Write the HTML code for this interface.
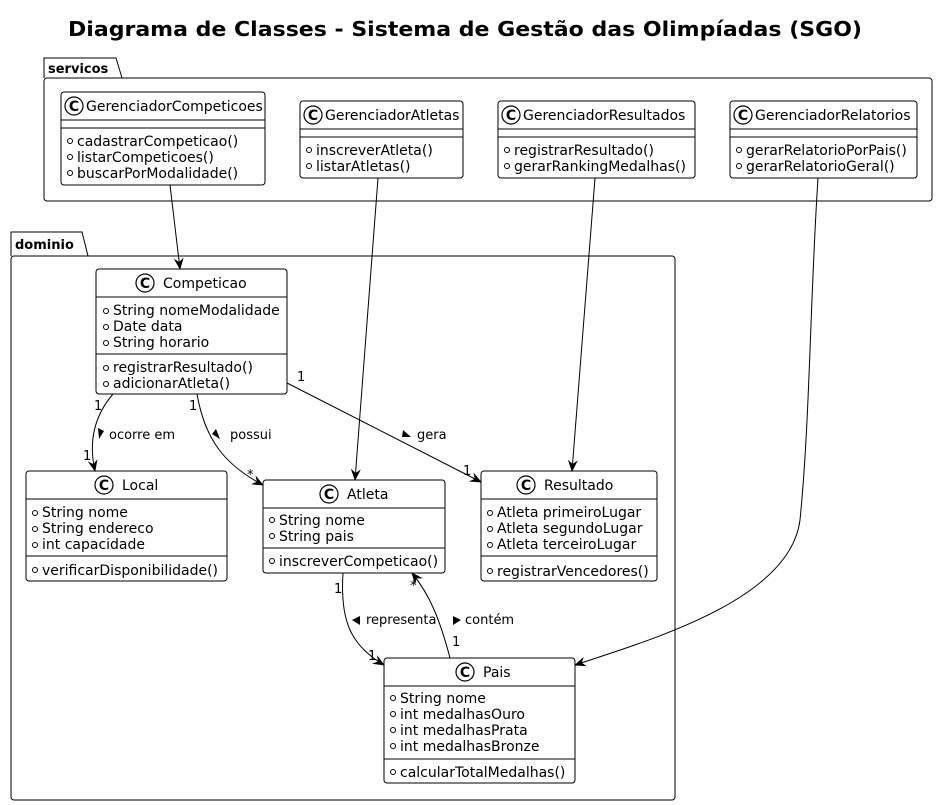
<!DOCTYPE html>
<html><head><meta charset="utf-8"><style>
body{margin:0;background:#fff;}
svg{display:block;}
text{font-family:"DejaVu Sans","Liberation Sans",sans-serif;font-size:14px;fill:#000;}
.t{font-weight:bold;font-size:20px;}
.pk{font-weight:bold;font-size:13px;}
.lbl{font-size:13px;}
</style></head><body>
<svg width="938" height="805" viewBox="0 0 938 805" xmlns="http://www.w3.org/2000/svg">
<defs>
<marker id="a" viewBox="0 0 12 10" refX="11" refY="5" markerWidth="12" markerHeight="10" markerUnits="userSpaceOnUse" orient="auto">
<path d="M0,0 L12,5 L0,10 L4,5 Z" fill="#000"/>
</marker>
<g id="ci"><circle r="9" fill="#fff" stroke="#000" stroke-width="1.2"/><text x="0" y="5" text-anchor="middle" style="font-size:14px;font-weight:bold">C</text></g>
</defs>
<rect width="938" height="805" fill="#fff"/>
<text class="t" x="68" y="36" textLength="794" lengthAdjust="spacingAndGlyphs">Diagrama de Classes - Sistema de Gestão das Olimpíadas (SGO)</text>

<path d="M44,78 L44,58 L116,58 L122,78" fill="none" stroke="#000"/>
<rect x="44" y="78" width="888" height="123" rx="3" fill="none" stroke="#000"/>
<text class="pk" x="48" y="73">servicos</text>

<path d="M11,256 L11,232 L82,232 L88,256" fill="none" stroke="#000"/>
<rect x="11" y="256" width="664" height="544" rx="3" fill="none" stroke="#000"/>
<text class="pk" x="15" y="249">dominio</text>

<g fill="#fff" stroke="#000">
<rect x="61" y="92" width="204" height="93" rx="3"/><line x1="61" y1="120" x2="265" y2="120"/><line x1="61" y1="128" x2="265" y2="128"/>
<rect x="300" y="101" width="163" height="77" rx="3"/><line x1="300" y1="129" x2="463" y2="129"/><line x1="300" y1="137" x2="463" y2="137"/>
<rect x="498" y="101" width="197" height="77" rx="3"/><line x1="498" y1="129" x2="695" y2="129"/><line x1="498" y1="137" x2="695" y2="137"/>
<rect x="730" y="101" width="187" height="77" rx="3"/><line x1="730" y1="129" x2="917" y2="129"/><line x1="730" y1="137" x2="917" y2="137"/>
<rect x="96" y="269" width="191" height="125" rx="3"/><line x1="96" y1="297" x2="287" y2="297"/><line x1="96" y1="354" x2="287" y2="354"/>
<rect x="26" y="471" width="201" height="110" rx="3"/><line x1="26" y1="499" x2="227" y2="499"/><line x1="26" y1="556" x2="227" y2="556"/>
<rect x="263" y="480" width="182" height="93" rx="3"/><line x1="263" y1="508" x2="445" y2="508"/><line x1="263" y1="548" x2="445" y2="548"/>
<rect x="481" y="471" width="176" height="110" rx="3"/><line x1="481" y1="499" x2="657" y2="499"/><line x1="481" y1="556" x2="657" y2="556"/>
<rect x="384" y="658" width="191" height="125" rx="3"/><line x1="384" y1="686" x2="575" y2="686"/><line x1="384" y1="759" x2="575" y2="759"/>
</g>

<use href="#ci" x="74" y="106"/><text x="86" y="111">GerenciadorCompeticoes</text>
<use href="#ci" x="313" y="115"/><text x="325" y="120">GerenciadorAtletas</text>
<use href="#ci" x="511" y="115"/><text x="523" y="120">GerenciadorResultados</text>
<use href="#ci" x="743" y="115"/><text x="755" y="120">GerenciadorRelatorios</text>
<use href="#ci" x="145" y="283"/><text x="163" y="288">Competicao</text>
<use href="#ci" x="104" y="485"/><text x="122" y="490">Local</text>
<use href="#ci" x="329" y="494"/><text x="347" y="499">Atleta</text>
<use href="#ci" x="526" y="485"/><text x="544" y="490">Resultado</text>
<use href="#ci" x="465" y="672"/><text x="483" y="677">Pais</text>

<g fill="none" stroke="#000" stroke-width="1">
<circle cx="70" cy="141" r="2.5"/><circle cx="70" cy="157" r="2.5"/><circle cx="70" cy="173" r="2.5"/>
<circle cx="309" cy="150" r="2.5"/><circle cx="309" cy="166" r="2.5"/>
<circle cx="507" cy="150" r="2.5"/><circle cx="507" cy="166" r="2.5"/>
<circle cx="739" cy="150" r="2.5"/><circle cx="739" cy="166" r="2.5"/>
<circle cx="106" cy="311" r="2.5"/><circle cx="106" cy="327" r="2.5"/><circle cx="106" cy="343" r="2.5"/><circle cx="106" cy="368" r="2.5"/><circle cx="106" cy="384" r="2.5"/>
<circle cx="35" cy="513" r="2.5"/><circle cx="35" cy="529" r="2.5"/><circle cx="35" cy="545" r="2.5"/><circle cx="35" cy="570" r="2.5"/>
<circle cx="272" cy="520" r="2.5"/><circle cx="272" cy="536" r="2.5"/><circle cx="272" cy="561" r="2.5"/>
<circle cx="490" cy="513" r="2.5"/><circle cx="490" cy="529" r="2.5"/><circle cx="490" cy="545" r="2.5"/><circle cx="490" cy="571" r="2.5"/>
<circle cx="393" cy="698" r="2.5"/><circle cx="393" cy="714" r="2.5"/><circle cx="393" cy="730" r="2.5"/><circle cx="393" cy="746" r="2.5"/><circle cx="393" cy="772" r="2.5"/>
</g>
<text x="77" y="146">cadastrarCompeticao()</text><text x="77" y="162">listarCompeticoes()</text><text x="77" y="178">buscarPorModalidade()</text>
<text x="316" y="155">inscreverAtleta()</text><text x="316" y="171">listarAtletas()</text>
<text x="514" y="155">registrarResultado()</text><text x="514" y="171">gerarRankingMedalhas()</text>
<text x="746" y="155">gerarRelatorioPorPais()</text><text x="746" y="171">gerarRelatorioGeral()</text>
<text x="113" y="315">String nomeModalidade</text><text x="113" y="331">Date data</text><text x="113" y="347">String horario</text>
<text x="113" y="372">registrarResultado()</text><text x="113" y="388">adicionarAtleta()</text>
<text x="42" y="517">String nome</text><text x="42" y="533">String endereco</text><text x="42" y="549">int capacidade</text><text x="42" y="575">verificarDisponibilidade()</text>
<text x="279" y="525">String nome</text><text x="279" y="541">String pais</text><text x="279" y="566">inscreverCompeticao()</text>
<text x="497" y="517">Atleta primeiroLugar</text><text x="497" y="533">Atleta segundoLugar</text><text x="497" y="549">Atleta terceiroLugar</text><text x="497" y="576">registrarVencedores()</text>
<text x="400" y="703">String nome</text><text x="400" y="719">int medalhasOuro</text><text x="400" y="735">int medalhasPrata</text><text x="400" y="751">int medalhasBronze</text><text x="400" y="777">calcularTotalMedalhas()</text>

<g fill="none" stroke="#000" stroke-width="1" marker-end="url(#a)">
<path d="M170,185 L180,269"/>
<path d="M378,178 L355,480"/>
<path d="M595,178 L572,471"/>
<path d="M818,178 C810,300 810,420 800,520 C790,600 650,640 575,665"/>
<path d="M113,394 C95,415 88,440 95,471"/>
<path d="M197,394 C205,440 225,465 263,485"/>
<path d="M287,383 L481,482"/>
<path d="M343,573 C340,620 350,645 384,665"/>
<path d="M450,658 C440,620 430,595 412,573"/>
</g>

<text class="lbl" x="94" y="410">1</text><text class="lbl" x="83" y="460">1</text>
<path d="M98,428 L104,431 L99,439 Z"/><text class="lbl" x="109" y="439">ocorre em</text>
<text class="lbl" x="189" y="410">1</text><text class="lbl" x="247" y="479">*</text>
<path d="M216,429 L220,439 L212,434 Z"/><text class="lbl" x="230" y="439">possui</text>
<text class="lbl" x="297" y="381">1</text><text class="lbl" x="463" y="475">1</text>
<path d="M403,430 L411,437 L402,437 Z"/><text class="lbl" x="417" y="439">gera</text>
<text class="lbl" x="334" y="593">1</text><text class="lbl" x="368" y="660">1</text>
<path d="M360,616 L352,620 L360,625 Z"/><text class="lbl" x="366" y="624">representa</text>
<text class="lbl" x="410" y="590">*</text><text class="lbl" x="452" y="646">1</text>
<path d="M453,616 L461,620 L453,625 Z"/><text class="lbl" x="465" y="624">contém</text>
</svg>
</body></html>
